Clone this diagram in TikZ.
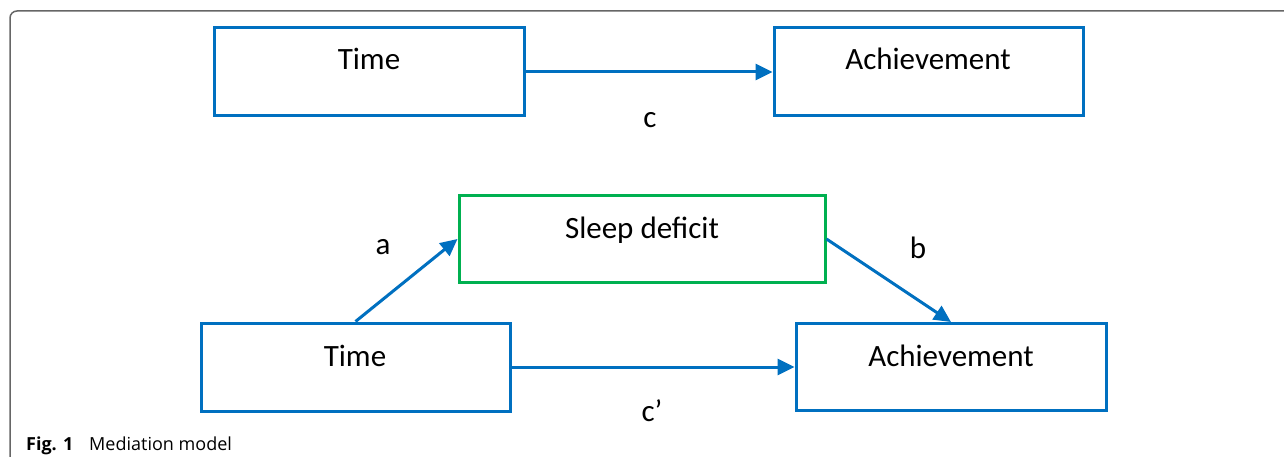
\documentclass[tikz,border=0pt]{standalone}
\usepackage{fontspec}
\setmainfont{Carlito}
\newfontfamily\capfont{Open Sans}
\usetikzlibrary{arrows.meta}
\definecolor{boxblue}{HTML}{0070C0}
\definecolor{boxgreen}{HTML}{00B050}
\definecolor{framegray}{HTML}{666666}
\begin{document}
\begin{tikzpicture}[x=1pt,y=-1pt,
  box/.style={draw=boxblue, line width=3pt, minimum width=310pt, minimum height=88pt, inner sep=0pt},
  greenbox/.style={box, draw=boxgreen, minimum width=366pt, minimum height=86pt},
  lbl/.style={font=\fontsize{31}{37}\selectfont, anchor=base, inner sep=0pt},
  arr/.style={draw=boxblue, line width=3pt, -{Triangle[length=17pt,width=16pt]}},
  captxt/.style={font=\capfont\fontsize{18}{22}\selectfont, anchor=base west, inner sep=0pt}]
\useasboundingbox (0,0) rectangle (1284,457);
\fill[white] (0,0) rectangle (1284,457);
% frame
\draw[framegray, line width=1.5pt, rounded corners=7pt] (10,460) -- (10,11) -- (1290,11);
% boxes
\node[box] (tt) at (369,72) {};
\node[box, minimum width=309pt] (ta) at (928.5,72) {};
\node[greenbox] (sd) at (642,239) {};
\node[box, minimum width=309pt] (bt) at (355.5,367) {};
\node[box, minimum width=310pt, minimum height=87pt] (ba) at (951,367) {};
% box texts
\node[lbl] (ttx) at (369,70) {Time};
\node[lbl] (tax) at (928,70) {Achievement};
\node[lbl] (sdx) at (642,238) {Sleep deficit};
\node[lbl] (btx) at (355,366) {Time};
\node[lbl] (bax) at (951,366) {Achievement};
% arrows
\draw[arr] (tt.east) -- (ta.west);
\draw[arr] (bt.north) -- (sd.west);
\draw[arr] (sd.east) -- (ba.north);
\draw[arr] (bt.east) -- (ba.west);
% path labels
\node[lbl] (lc) at (650,128) {c};
\node[lbl] (la) at (383,254) {a};
\node[lbl] (lb) at (918,258) {b};
\node[lbl] (lcp) at (652,421) {c’};
% caption
\node[captxt] (capfig) at (26,450) {\bfseries Fig. 1};
\node[captxt] (captext) at (89,450) {Mediation model};
\end{tikzpicture}
\end{document}
